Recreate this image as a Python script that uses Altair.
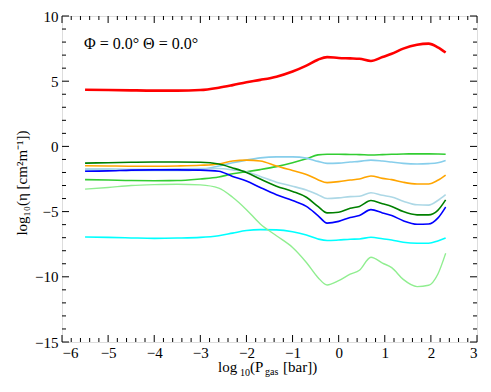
import altair as alt
import pandas as pd
import numpy as np

x_vals = [-5.5, -5.0, -4.5, -4.0, -3.5, -3.0, -2.6, -2.3, -2.0, -1.7, -1.35, -1.0, -0.7,
          -0.45, -0.25, 0.0, 0.25, 0.45, 0.7, 0.95, 1.15, 1.4, 1.7, 1.95, 2.15, 2.32]

red = [4.35, 4.33, 4.30, 4.28, 4.28, 4.32, 4.50, 4.70, 4.92, 5.10, 5.35, 5.75, 6.20,
       6.65, 6.85, 6.78, 6.75, 6.72, 6.55, 6.85, 7.10, 7.50, 7.80, 7.88, 7.60, 7.20]
orange = [-1.48, -1.50, -1.52, -1.52, -1.50, -1.45, -1.35, -1.12, -1.05, -1.12, -1.50, -1.85, -2.15,
          -2.55, -2.78, -2.70, -2.58, -2.50, -2.27, -2.45, -2.55, -2.75, -2.88, -2.88, -2.60, -2.20]
skyblue = [-1.80, -1.82, -1.85, -1.85, -1.85, -1.78, -1.50, -1.25, -1.05, -0.88, -0.80, -0.80, -0.90,
           -1.15, -1.30, -1.28, -1.20, -1.15, -1.05, -1.12, -1.20, -1.30, -1.35, -1.32, -1.25, -1.08]
lightblue = [-1.72, -1.72, -1.75, -1.75, -1.72, -1.70, -1.70, -1.80, -1.95, -2.30, -2.75, -3.05, -3.35,
             -3.70, -4.00, -3.95, -3.85, -3.82, -3.55, -3.75, -3.88, -4.20, -4.48, -4.50, -4.15, -3.70]
darkgreen = [-1.28, -1.25, -1.22, -1.20, -1.20, -1.22, -1.35, -1.65, -2.00, -2.50, -3.05, -3.45, -3.90,
             -4.60, -5.10, -5.05, -4.75, -4.60, -4.15, -4.40, -4.60, -5.00, -5.25, -5.25, -4.90, -4.10]
blue = [-1.90, -1.88, -1.82, -1.80, -1.80, -1.82, -1.90, -2.30, -2.65, -3.15, -3.70, -4.15, -4.60,
        -5.30, -5.88, -5.75, -5.45, -5.30, -4.85, -5.10, -5.30, -5.70, -5.97, -5.95, -5.50, -4.65]
limegreen = [-2.55, -2.58, -2.62, -2.63, -2.62, -2.50, -2.35, -2.10, -1.95, -1.78, -1.55, -1.25, -0.95,
             -0.65, -0.60, -0.60, -0.62, -0.63, -0.66, -0.63, -0.60, -0.58, -0.57, -0.57, -0.58, -0.60]
lightgreen = [-3.28, -3.15, -3.00, -2.93, -2.90, -2.95, -3.20, -3.90, -4.85, -5.95, -6.85, -7.75, -8.90,
              -10.05, -10.63, -10.30, -9.80, -9.50, -8.50, -8.95, -9.30, -10.20, -10.75, -10.65, -9.80, -8.20]
cyan = [-6.95, -6.98, -7.02, -7.05, -7.03, -6.98, -6.85, -6.65, -6.45, -6.38, -6.40, -6.55, -6.80,
        -7.10, -7.22, -7.18, -7.12, -7.10, -6.97, -7.08, -7.18, -7.35, -7.43, -7.43, -7.25, -7.02]

series = [
    ("red", red, "#ff0000", 2.6),
    ("limegreen", limegreen, "#32cd32", 1.6),
    ("skyblue", skyblue, "#87ceeb", 1.6),
    ("orange", orange, "#ffa500", 1.6),
    ("lightblue", lightblue, "#add8e6", 1.6),
    ("darkgreen", darkgreen, "#008000", 1.6),
    ("blue", blue, "#0000ff", 1.6),
    ("cyan", cyan, "#00ffff", 1.6),
    ("lightgreen", lightgreen, "#90ee90", 1.4),
]

x_major = [-6, -5, -4, -3, -2, -1, 0, 1, 2, 3]
y_major = [10, 5, 0, -5, -10, -15]
x_minor = [round(v, 1) for v in np.arange(-6, 3.001, 0.2)]
y_minor = list(range(-15, 11))

W, H = 415, 326
xs = alt.Scale(domain=[-6, 3], nice=False, zero=False)
ys = alt.Scale(domain=[-15, 10], nice=False, zero=False)
FONT = "serif"

layers = []
for name, vals, color, sw in series:
    df = pd.DataFrame({"x": x_vals, "y": vals})
    layers.append(
        alt.Chart(df).mark_line(color=color, strokeWidth=sw, interpolate="monotone").encode(
            x=alt.X("x:Q", scale=xs,
                    axis=alt.Axis(values=x_major, ticks=False, domain=False, grid=False, title=None,
                                  labelFont=FONT, labelFontSize=15, labelColor="black", labelPadding=3,
                                  labelExpr="replace(datum.label, '-', '\u2212')")),
            y=alt.Y("y:Q", scale=ys,
                    axis=alt.Axis(values=y_major, ticks=False, domain=False, grid=False, title=None,
                                  labelFont=FONT, labelFontSize=15, labelColor="black", labelPadding=4,
                                  labelExpr="replace(datum.label, '-', '\u2212')")),
        )
    )

# inward ticks
xt = pd.DataFrame({"x": x_minor})
xt["major"] = xt["x"].apply(lambda v: abs(v - round(v)) < 1e-6)
yt = pd.DataFrame({"y": y_minor})
yt["major"] = yt["y"].apply(lambda v: v % 5 == 0)

for major, ln in [(True, 7), (False, 4)]:
    xd = xt[xt["major"] == major]
    yd = yt[yt["major"] == major]
    layers.append(alt.Chart(xd).mark_rule(color="black", strokeWidth=1).encode(
        x=alt.X("x:Q", scale=xs), y=alt.value(H), y2=alt.value(H - ln)))
    layers.append(alt.Chart(xd).mark_rule(color="black", strokeWidth=1).encode(
        x=alt.X("x:Q", scale=xs), y=alt.value(0), y2=alt.value(ln)))
    layers.append(alt.Chart(yd).mark_rule(color="black", strokeWidth=1).encode(
        y=alt.Y("y:Q", scale=ys), x=alt.value(0), x2=alt.value(ln)))
    layers.append(alt.Chart(yd).mark_rule(color="black", strokeWidth=1).encode(
        y=alt.Y("y:Q", scale=ys), x=alt.value(W), x2=alt.value(W - ln)))

def txt(s, x, y, size, align="left", baseline="alphabetic", angle=0):
    return alt.Chart(pd.DataFrame({"t": [s]})).mark_text(
        font=FONT, fontSize=size, color="black", align=align, baseline=baseline, angle=angle
    ).encode(x=alt.value(x), y=alt.value(y), text="t:N")

# annotation
layers.append(txt("\u03a6 = 0.0\u00b0 \u0398 = 0.0\u00b0", 22, 33, 16))

# x title pieces
layers.append(txt("log", 156, 356, 15))
layers.append(txt("10", 178, 360, 10))
layers.append(txt("(P", 188, 356, 15))
layers.append(txt("gas", 203, 359, 10))
layers.append(txt("[bar])", 221, 356, 15))

# y title
layers.append(txt("log\u2081\u2080(\u03b7 [cm\u00b2m\u207b\u00b9])", -40, 167, 15,
                  align="center", baseline="middle", angle=270))

chart = alt.layer(*layers).properties(
    width=W, height=H,
    autosize=alt.AutoSizeParams(type="none"),
    padding={"left": 54, "top": 8, "right": 6, "bottom": 40},
).configure_view(stroke="black", strokeWidth=2).configure(background="white")

chart.save("out.html", embed_options={"renderer": "svg", "actions": False})
